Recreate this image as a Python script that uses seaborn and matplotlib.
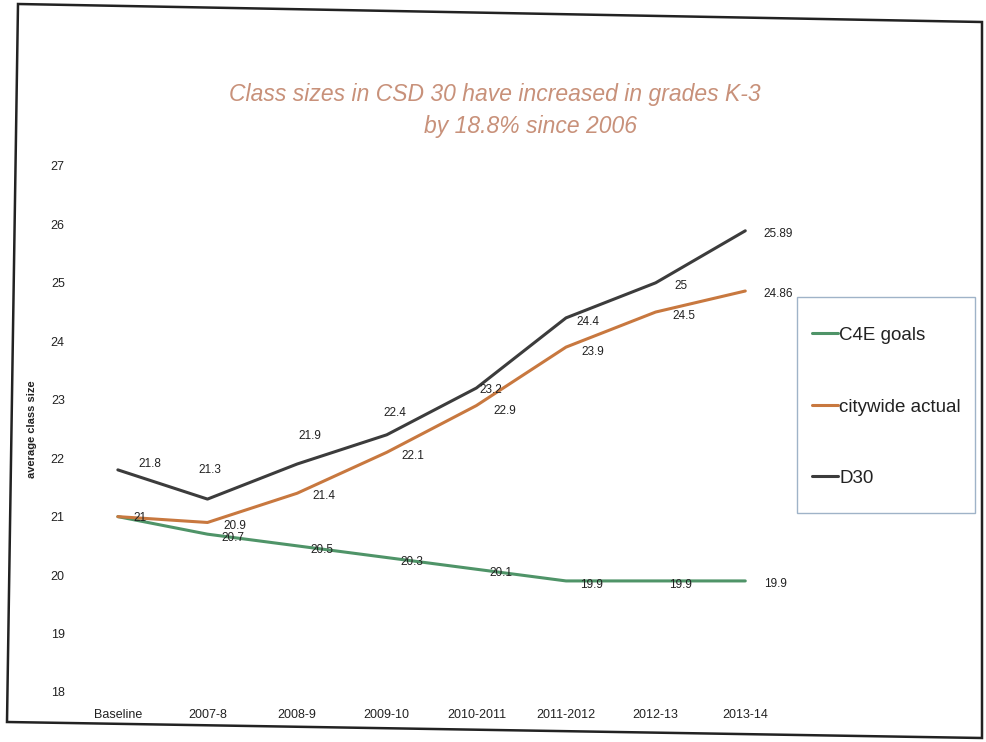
# --Libraries--
import pandas as pd
import matplotlib
matplotlib.use("Agg")
import matplotlib.pyplot as plt
from matplotlib.lines import Line2D
from matplotlib.patches import Rectangle, Polygon
import seaborn as sns

# --Data--
years = ["Baseline", "2007-8", "2008-9", "2009-10", "2010-2011",
         "2011-2012", "2012-13", "2013-14"]
c4e_goals = [21, 20.7, 20.5, 20.3, 20.1, 19.9, 19.9, 19.9]
citywide_actual = [21, 20.9, 21.4, 22.1, 22.9, 23.9, 24.5, 24.86]
d30 = [21.8, 21.3, 21.9, 22.4, 23.2, 24.4, 25, 25.89]
label_text = {
    "C4E goals": ["", "20.7", "20.5", "20.3", "20.1", "19.9", "19.9", "19.9"],
    "citywide actual": ["21", "20.9", "21.4", "22.1", "22.9", "23.9", "24.5", "24.86"],
    "D30": ["21.8", "21.3", "21.9", "22.4", "23.2", "24.4", "25", "25.89"],
}

series_names = ["C4E goals", "citywide actual", "D30"]
colors = {"C4E goals": "#4f9468", "citywide actual": "#c8783f", "D30": "#3c3c3c"}

# -Long form table for seaborn
df = pd.DataFrame({
    "year": years * 3,
    "x": list(range(len(years))) * 3,
    "value": c4e_goals + citywide_actual + d30,
    "series": sum([[s] * len(years) for s in series_names], []),
})

# --Figure--
sns.set_style("white")
plt.rcParams["font.family"] = ["Liberation Sans", "DejaVu Sans"]

fig = plt.figure(figsize=(9.87, 7.42), dpi=100)
ax = fig.add_axes([0.074, 0.0674, 0.7265, 0.709])

sns.lineplot(data=df, x="x", y="value", hue="series", palette=colors,
             hue_order=series_names, linewidth=2.2, legend=False, ax=ax)

# -Data labels (pixel offsets from each point)
offsets = {
    "C4E goals": [(0, 0)] + [(25, -4)] * 6 + [(30, -3)],
    "citywide actual": [(22, -1), (27, -4), (27, -3), (26, -4), (28, -5),
                        (27, -5), (28, -4), (33, -3)],
    "D30": [(32, 6), (2, 29), (13, 28), (8, 22), (14, -2), (22, -4),
            (25, -3), (33, -3)],
}
for s in series_names:
    vals = df[df["series"] == s]["value"].tolist()
    for i, v in enumerate(vals):
        txt = label_text[s][i]
        if not txt:
            continue
        ax.annotate(txt, (i, v), xytext=offsets[s][i], textcoords="offset pixels",
                    ha="center", va="center", fontsize=8.5, color="#222222")

ax.set_xlim(-0.5, len(years) - 0.5)
ax.set_ylim(18, 27)
ax.set_xticks(range(len(years)))
ax.set_xticklabels(years)
ax.set_yticks(range(18, 28))
ax.tick_params(axis="both", length=0, labelsize=9, colors="#222222")
ax.tick_params(axis="x", pad=12)
ax.tick_params(axis="y", pad=6)
ax.set_xlabel("")
ax.set_ylabel("average class size", fontsize=8, fontweight="bold", labelpad=10,
              color="#222222")
for sp in ax.spines.values():
    sp.set_visible(False)
ax.patch.set_alpha(0)

# -Title (second line sits a little to the right in the original)
title_kw = dict(ha="center", va="center", fontsize=16.5, style="italic",
                color="#c8917a")
fig.text(495 / 987, 1 - 95 / 742, "Class sizes in CSD 30 have increased in grades K-3",
         **title_kw)
fig.text(531 / 987, 1 - 127 / 742, "by 18.8% since 2006", **title_kw)

# -Legend with its own box
fig.patches.append(Rectangle((797 / 987, 1 - 513 / 742), 178 / 987, 216 / 742,
                             transform=fig.transFigure, fill=False,
                             edgecolor="#9fb3c8", linewidth=1))
handles = [Line2D([], [], color=colors[s], linewidth=2.2) for s in series_names]
fig.legend(handles, series_names, loc="center left",
           bbox_to_anchor=(795 / 987, 1 - 407 / 742), frameon=False,
           fontsize=13.5, handlelength=1.4, handletextpad=0.05,
           labelspacing=2.9, labelcolor="#222222")

# -Page frame from the photographed sheet
fig.patches.append(Polygon([(18 / 987, 1 - 4 / 742), (982 / 987, 1 - 22 / 742),
                            (982 / 987, 1 - 738 / 742), (7 / 987, 1 - 722 / 742)],
                           closed=True, transform=fig.transFigure, fill=False,
                           edgecolor="#222222", linewidth=1.8))

fig.savefig("out.png", dpi=100)
